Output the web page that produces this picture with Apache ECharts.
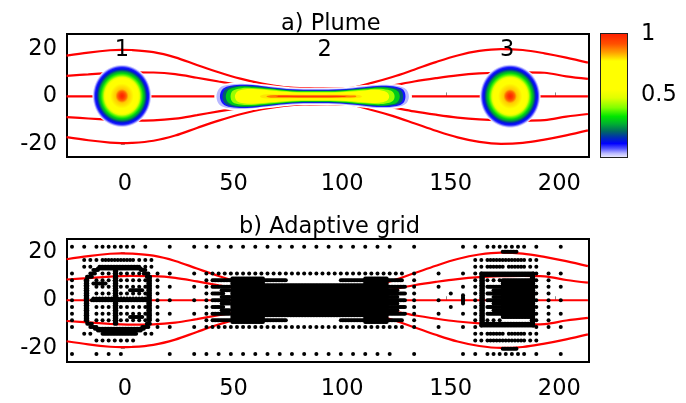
<!DOCTYPE html>
<html><head><meta charset="utf-8">
<script src="https://cdn.jsdelivr.net/npm/echarts@6/dist/echarts.min.js"></script>
<style>html,body{margin:0;padding:0;background:#fff}#c{width:686px;height:403px}</style>
</head><body><div id="c"></div>
<script>
// ---------- DATA ----------
const xTicks = [0, 50, 100, 150, 200];
const yTicks = [-20, 0, 20];
const cbTicks = [0.5, 1];
const titles = ['a) Plume', 'b) Adaptive grid'];

// streamlines
const streamX = [-25,-15,-5,0,5,15,25,35,45,55,65,75,85,95,105,115,125,135,145,155,165,175,185,195,205,215];
const streamOuterTop = [17.2,18.5,19.5,19.7,19.6,18.7,16.5,13.3,10.2,7.5,5.4,4.0,3.4,3.3,3.5,5.6,8.2,11.3,14.5,17.3,19.2,20.0,19.6,18.2,16.4,14.3];
const streamInnerTop = [8.7,9.3,9.9,10.1,10.2,10.1,9.4,7.9,6.3,4.8,3.2,2.2,1.8,1.8,2.0,3.0,4.6,6.3,7.7,8.9,9.7,10.1,10.2,10.0,8.5,7.4];
const streamCenter = [0,0,0,0,0,0,0,0,0,0,0,0,0,0,0,0,0,0,0,0,0,0,0,0,0,0];
const streamInnerBottom = [-8.7,-9.3,-9.9,-10.1,-10.2,-10.1,-9.4,-7.9,-6.3,-4.8,-3.2,-2.2,-1.8,-1.8,-2.0,-3.0,-4.6,-6.3,-7.7,-8.9,-9.7,-10.1,-10.2,-10.0,-8.5,-7.4];
const streamOuterBottom = [-17.2,-18.5,-19.5,-19.7,-19.6,-18.7,-16.5,-13.3,-10.2,-7.5,-5.4,-4.0,-3.4,-3.3,-3.5,-5.6,-8.2,-11.3,-14.5,-17.3,-19.2,-20.0,-19.6,-18.2,-16.4,-14.3];

// plume labels
const plumeLabelText = ['1', '2', '3'];
const plumeLabelX = [0.5, 93.8, 177.8];
const plumeLabelY = [19.4, 19.4, 19.6];

// round plumes 1 and 3: [cx, cy, rx, ry]
const roundPlumes = [[0.5, 0.2, 13.6, 13.3], [179.2, 0.1, 14.0, 13.5]];
// radial concentration profile (relative radius -> value)
const roundRho = [0, 0.08, 0.15, 0.22, 0.4, 0.55, 0.6, 0.66, 0.72, 0.77, 0.81, 0.85, 0.9, 0.935, 0.965, 1];
const roundVal = [1.0, 0.96, 0.9, 0.82, 0.7, 0.57, 0.48, 0.38, 0.31, 0.25, 0.19, 0.13, 0.1, 0.06, 0.02, 0];

// stretched plume 2: contour levels and their upper outlines [x, half-height]
const plume2Levels = [0, 0.03, 0.10, 0.20, 0.30, 0.42, 0.55, 0.68, 0.80, 0.88, 0.96];
const plume2Outlines = [
  [[43,0],[44.5,4.0],[48.5,5.5],[57,6.0],[67,5.0],[78,3.9],[90,3.6],[102,3.9],[112,4.8],[120,5.4],[128,5.0],[132.5,3.6],[134,0]],
  [[44,0],[45.5,3.6],[49.5,4.9],[57,5.3],[67,4.4],[78,3.4],[90,3.2],[102,3.4],[112,4.3],[120,4.9],[127.5,4.4],[131.3,3.0],[132.6,0]],
  [[45.6,0],[47,3.2],[50.5,4.5],[58,4.9],[68,4.0],[79,3.0],[90,2.8],[101,3.0],[112,3.9],[120,4.5],[127,4.0],[130,2.8],[131,0]],
  [[46.8,0],[48,2.9],[51.5,4.2],[58,4.5],[68,3.7],[79,2.7],[90,2.5],[101,2.7],[112,3.6],[120,4.1],[126,3.6],[129,2.5],[129.9,0]],
  [[48.3,0],[49.5,2.7],[53,3.9],[59,4.1],[68,3.4],[79,2.45],[90,2.25],[101,2.45],[112,3.3],[119.5,3.8],[125,3.3],[127.5,2.2],[128.4,0]],
  [[50.5,0],[51.5,2.4],[55,3.4],[60,3.6],[68,3.0],[79,2.1],[90,1.95],[101,2.1],[112,2.9],[118.5,3.3],[123,2.8],[125.3,1.8],[126,0]],
  [[52.5,0],[53.5,2.0],[56.5,2.9],[61,3.1],[69,2.5],[79,1.8],[90,1.7],[101,1.8],[111,2.4],[117,2.8],[121,2.3],[122.8,1.5],[123.5,0]],
  [[58,0],[59,1.4],[62,2.0],[70,1.6],[80,1.25],[90,1.15],[100,1.25],[108,1.5],[113,1.6],[116.5,1.1],[117.5,0]],
  [[64,0],[66,0.8],[72,0.85],[90,0.75],[104,0.8],[110,0.55],[111,0]],
  [[67,0],[69,0.5],[80,0.55],[90,0.55],[100,0.5],[107.5,0.35],[108.4,0]],
  [[71.6,0],[73,0.25],[90,0.3],[102.5,0.22],[103.8,0]]
];

// adaptive grid (lattice units, one unit = gridCell data units)
const gridCell = 2.8125;
// horizontal runs: [v, uStart, uEnd, uStep]
const gridRows = [
  [8,-8,-4,2],[8,-3,2,1],[8,4,12,4],[8,14,44,2],[8,48,48,1],[8,56,58,2],[8,60,66,1],[8,68,72,4],
  [-8,-8,-8,1],[-8,-4,0,2],[-8,8,12,4],[-8,14,44,2],[-8,48,48,1],[-8,56,58,2],[-8,60,66,1],[-8,68,72,4],
  // plume 1
  [6,-6,-4,1],[6,-3,2,0.5],[6,3,5,1],[5,-6,-5,1],[5,4,5,1],
  [5,-3.5,3,0.25],[4.75,-3.75,3.25,0.25],
  [4.5,-4.5,-3.75,0.25],[4.5,3.25,4,0.25],
  [4,-5,-4.25,0.25],[4,3.75,4.5,0.25],
  [3.5,-5.5,-4.75,0.25],[3.5,4.25,4.75,0.25],
  [-3.5,-5.5,-4.75,0.25],[-3.5,4.25,4.75,0.25],
  [-4,-5,-4,0.25],[-4,3.5,4.5,0.25],
  [-4.25,-4.25,3.75,0.25],[-4.5,-3.75,3.25,0.25],[-5,-3,2.5,0.25],[-5,-6,-5,1],[-5,4,5,1],[-6,-4,2,1],
  [4,-3,3,1],[3,-4,4,1],[2,-4,4,1],[1,-4,4,1],[-1,-4,4,1],[-2,-4,4,1],[-3,-4,4,1],
  [0,-4.75,4.5,0.25],[0.25,-4.5,4.25,0.5],
  [2.5,-4.5,-2.5,0.25],[-2.5,1.5,3.5,0.25],[1.5,1.5,3.5,0.25],
  // plume 2
  [4,14,46,1],[4,48,48,1],[-4,14,46,1],[-4,48,48,1],
  [3,15,27,0.25],[3,36,46,0.25],[-3,15,27,0.25],[-3,36,46,0.25],
  [2,15,17.75,0.25],[1.5,16.5,17.75,0.25],[1,15,16.75,0.25],[0.5,16.5,17.75,0.25],[0,15,17.75,0.25],
  [-0.5,16.5,17.75,0.25],[-1,15,16.75,0.25],[-1.5,16.5,17.75,0.25],[-2,15,17.75,0.25],
  [2,43.5,46.5,0.25],[1.5,43.5,45.25,0.25],[1,43.5,46.5,0.25],[0.5,43.5,45.25,0.25],[0,43.5,46.5,0.25],
  [-0.5,43.5,45.25,0.25],[-1,43.5,46.5,0.25],[-1.5,43.5,45.25,0.25],[-2,43.5,46.5,0.25],
  // plume 3
  [7.25,62.5,64.75,0.25],[-7.25,62.5,64.75,0.25],
  [6,58,59,1],[6,60,66,0.5],[6,67,68,1],[5,58,59,1],[5,60,62.5,0.5],[5,63.5,66,0.5],[5,67,68,1],
  [-6,58,59,1],[-6,60,66,0.5],[-6,67,68,1],[-5,58,59,1],[-5,60,62.5,0.5],[-5,63.5,66,0.5],[-5,67,68,1],
  [4,59,67.5,0.25],[3.75,59.5,67.25,0.25],[-3.75,59,67.5,0.25],[-3.5,59.5,67.25,0.25],
  [3,60,62,1],[2,60,62.5,0.25],[1.5,61,62.5,0.25],[1,60,62.5,0.25],[0.5,61,62.5,0.25],[0,60,62.5,0.25],
  [-0.5,61,62.5,0.25],[-1,60,62.5,0.25],[-1.5,61,62.5,0.25],[-2,60,62.5,0.25],[-3,60,62,1]
];
// vertical runs: [u, vStart, vEnd, vStep]
const gridCols = [
  [-8,-4,4,1],[-5.75,-3,3,0.25],[-5.5,-3.25,3.5,0.25],[4.5,-3,3.5,0.25],[4.75,-3,3.5,0.25],
  [-1,-3.5,4.5,0.25],[-0.75,-3.5,4.5,0.25],[6,-4,4,1],[8,-4,4,2],[12,-4,4,2],
  [14,-3,3,1],[48,-3,3,1],[52,-4,4,2],[54,-1,1,2],[56,-4,4,2],[56,-0.5,0.75,0.25],
  [58,-4,4,1],[59,-3.75,4,0.25],[59.25,-3.5,3.75,0.25],[67.5,-3.75,4,0.25],[67.25,-3.5,3.75,0.25],
  [68,-4,4,1],[70,-4,4,1],[72,-4,4,2]
];
// dense blocks: [uStart, uEnd, vStart, vEnd, step]
const gridBlocks = [
  [18.25,23.25,-3.25,3.25,0.25],[23.25,40,-2.25,2.25,0.25],[40,43.5,-3.25,3.25,0.25],
  [62.5,67,-2.5,3,0.25]
];

// colour map of the colour bar
const colormapStops = [[0,'#e8e8ff'],[0.03,'#b8b8ff'],[0.07,'#5050ff'],[0.11,'#0000ff'],[0.16,'#0030b0'],[0.21,'#006a60'],[0.27,'#00b030'],[0.33,'#00e600'],[0.40,'#80ff00'],[0.48,'#e0ff00'],[0.55,'#ffff00'],[0.78,'#ffff00'],[0.85,'#ffa000'],[0.92,'#ff5000'],[1,'#ff2000']];

// ---------- HELPERS ----------
function hex(c){return [parseInt(c.slice(1,3),16),parseInt(c.slice(3,5),16),parseInt(c.slice(5,7),16)];}
function colorAt(v){
  v = Math.max(0, Math.min(1, v));
  for (let i = 0; i < colormapStops.length - 1; i++) {
    const a = colormapStops[i], b = colormapStops[i+1];
    if (v >= a[0] && v <= b[0]) {
      const t = (v - a[0]) / (b[0] - a[0] || 1);
      const ca = hex(a[1]), cb = hex(b[1]);
      return 'rgb(' + ca.map((x,k)=>Math.round(x + (cb[k]-x)*t)).join(',') + ')';
    }
  }
  return colormapStops[colormapStops.length-1][1];
}
function expandGrid(){
  const pts = [];
  const add = (u, v) => pts.push([u * gridCell, v * gridCell]);
  gridRows.forEach(([v,u0,u1,du]) => { for (let u = u0; u <= u1 + 1e-9; u += du) add(u, v); });
  gridCols.forEach(([u,v0,v1,dv]) => { for (let v = v0; v <= v1 + 1e-9; v += dv) add(u, v); });
  gridBlocks.forEach(([u0,u1,v0,v1,d]) => {
    for (let u = u0; u <= u1 + 1e-9; u += d) for (let v = v0; v <= v1 + 1e-9; v += d) add(u, v);
  });
  return pts;
}

const FONT = 'DejaVu Sans';
const X_MIN = -24.8, X_MAX = 215.5;
function xAx(gi){
  return {type:'value', gridIndex:gi, min:X_MIN, max:X_MAX,
    axisLine:{show:false}, splitLine:{show:false},
    axisTick:{show:true, inside:true, length:4, lineStyle:{color:'#888', width:1}, customValues:xTicks},
    axisLabel:{customValues:xTicks, fontSize:22.5, color:'#000', margin:16, padding:[0,0,0,8], fontFamily:FONT}};
}
function yAx(gi, mn, mx){
  return {type:'value', gridIndex:gi, min:mn, max:mx,
    axisLine:{show:false}, splitLine:{show:false},
    axisTick:{show:true, inside:true, length:4, lineStyle:{color:'#888', width:1}, customValues:yTicks},
    axisLabel:{customValues:yTicks, fontSize:22.5, color:'#000', margin:10, fontFamily:FONT}};
}
function lineSeries(gi, ys){
  return {type:'line', xAxisIndex:gi, yAxisIndex:gi, data:streamX.map((x,i)=>[x, ys[i]]),
    smooth:0.35, symbol:'none', lineStyle:{color:'#ff0000', width:2.2}, z:2, silent:true, animation:false};
}
const streams = [streamOuterTop, streamInnerTop, streamCenter, streamInnerBottom, streamOuterBottom];

const roundStops = roundRho.map((r,i)=>({offset:r, color: i === roundRho.length-1 ? '#ffffff' : colorAt(roundVal[i])}));

const series = [];
streams.forEach(s => series.push(lineSeries(0, s)));
streams.forEach(s => series.push(lineSeries(1, s)));

// plume 2 contours
series.push({type:'custom', xAxisIndex:0, yAxisIndex:0, z:3, silent:true,
  data: plume2Levels.map((v,i)=>[i, v]),
  renderItem(params, api){
    const i = api.value(0), lvl = api.value(1);
    const o = plume2Outlines[i];
    const pts = o.map(p => api.coord([p[0], p[1]]));
    const bot = o.slice(1, -1).reverse().map(p => api.coord([p[0], -p[1]]));
    return {type:'polygon', shape:{points: pts.concat(bot), smooth:0.35},
      style:{fill: lvl === 0 ? '#ffffff' : colorAt(lvl), stroke:null}};
  }});
// plumes 1 and 3
series.push({type:'custom', xAxisIndex:0, yAxisIndex:0, z:3, silent:true,
  data: roundPlumes,
  renderItem(params, api){
    const c = api.coord([api.value(0), api.value(1)]);
    const rx = api.size([api.value(2), 0])[0];
    const ry = api.size([0, api.value(3)])[1];
    return {type:'circle', x:c[0], y:c[1], scaleY: ry/rx, shape:{cx:0, cy:0, r:rx},
      style:{fill:{type:'radial', x:0.5, y:0.5, r:0.5, colorStops: roundStops}}};
  }});
// plume number labels
series.push({type:'scatter', xAxisIndex:0, yAxisIndex:0, z:5, silent:true, symbolSize:0,
  itemStyle:{color:'#000', opacity:1},
  data: plumeLabelText.map((t,i)=>({name:t, value:[plumeLabelX[i], plumeLabelY[i]]})),
  label:{show:true, position:'inside', formatter:p=>p.name, fontSize:22.5, color:'#000', opacity:1,
    textBorderWidth:0, fontFamily:FONT}});
// adaptive grid points
series.push({type:'scatter', xAxisIndex:1, yAxisIndex:1, z:4, silent:true, symbolSize:4,
  itemStyle:{color:'#000', opacity:1}, data: expandGrid(), animation:false});
// colour bar
series.push({type:'custom', xAxisIndex:2, yAxisIndex:2, z:3, silent:true, data:[[0,0]],
  renderItem(params, api){
    const p0 = api.coord([0,0]), p1 = api.coord([1,1]);
    return {type:'rect', shape:{x:p0[0], y:p1[1], width:p1[0]-p0[0], height:p0[1]-p1[1]},
      style:{fill:{type:'linear', x:0, y:1, x2:0, y2:0, colorStops: colormapStops.map(s=>({offset:s[0], color:s[1]}))}}};
  }});

const gridBase = {show:true, borderColor:'#000', borderWidth:2, backgroundColor:'rgba(0,0,0,0)', containLabel:false, outerBoundsMode:'none'};
const option = {
  animation:false,
  backgroundColor:'#fff',
  textStyle:{fontFamily:FONT},
  title:[
    {text:titles[0], left:276, top:8, textStyle:{fontSize:22.5, fontWeight:'normal', color:'#000', fontFamily:FONT}},
    {text:titles[1], left:234, top:211, textStyle:{fontSize:22.5, fontWeight:'normal', color:'#000', fontFamily:FONT}}
  ],
  grid:[
    Object.assign({left:67, top:34, width:522, height:123}, gridBase),
    Object.assign({left:67, top:239, width:522, height:123}, gridBase),
    Object.assign({left:601, top:34, width:26, height:123}, gridBase, {borderColor:'#222'})
  ],
  xAxis:[xAx(0), xAx(1), {type:'value', gridIndex:2, min:0, max:1, show:false}],
  yAxis:[yAx(0, -25.56, 26.36), yAx(1, -25.9, 25.7),
    {type:'value', gridIndex:2, min:0, max:1, position:'right',
     axisLine:{show:false}, splitLine:{show:false}, axisTick:{show:false},
     axisLabel:{customValues:cbTicks, fontSize:22.5, color:'#000', margin:14, padding:[5,0,0,0], fontFamily:FONT}}],
  series
};
const chart = echarts.init(document.getElementById('c'), null, {renderer:'canvas'});
chart.setOption(option);
</script></body></html>
